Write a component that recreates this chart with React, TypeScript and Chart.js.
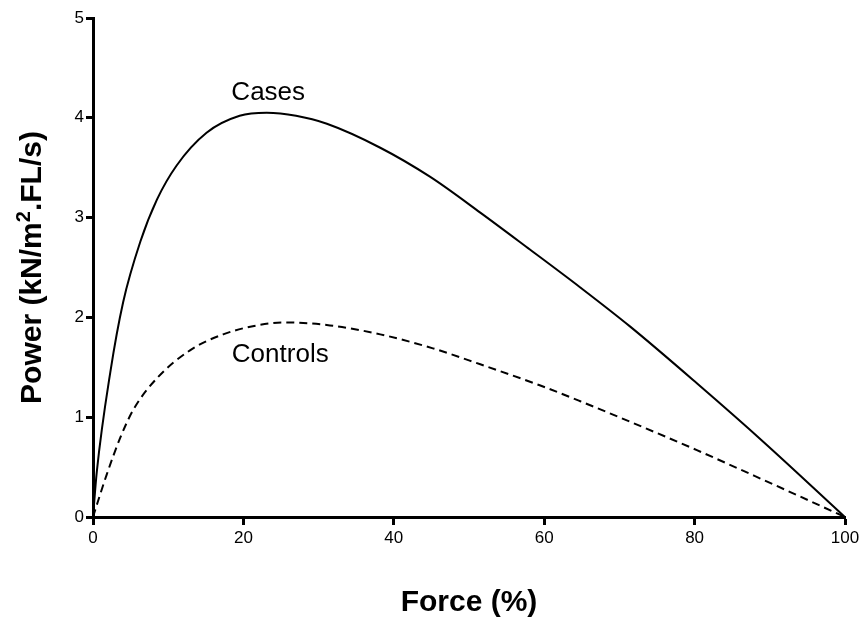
import React, { useEffect, useRef } from "react";
import { Chart, registerables } from "chart.js";

Chart.register(...registerables);

const casesX = [0, 0.5, 2.3, 4, 6.3, 8.5, 11.1, 15.1, 19.5, 23.1, 27, 31.1, 38.2, 44.8, 51.5, 58.1, 64.8, 71.4, 80.3, 89.2, 100];
const casesY = [0, 0.45, 1.45, 2.15, 2.76, 3.18, 3.52, 3.85, 4.02, 4.05, 4.02, 3.94, 3.7, 3.41, 3.05, 2.68, 2.3, 1.91, 1.34, 0.75, 0];

const controlsX = [0, 0.5, 1.8, 3.6, 5.4, 8.5, 12.9, 17.3, 21.8, 25.3, 31.5, 38.2, 45.2, 51.5, 59.4, 64.8, 71.4, 80.3, 89.2, 100];
const controlsY = [0, 0.12, 0.42, 0.79, 1.08, 1.39, 1.67, 1.83, 1.92, 1.95, 1.92, 1.83, 1.69, 1.53, 1.32, 1.16, 0.955, 0.67, 0.37, 0];

const xTicks = [0, 20, 40, 60, 80, 100];
const yTicks = [0, 1, 2, 3, 4, 5];

const curveLabels = ["Cases", "Controls"];
const curveLabelX = [23.3, 24.9];
const curveLabelY = [4.25, 1.62];

const xTitle = "Force (%)";
const yTitleParts = ["Power (kN/m", "2", ".FL/s)"];

const FONT = '"Liberation Sans", Arial, Helvetica, sans-serif';

const labelPlugin = {
  id: "curveLabels",
  afterDatasetsDraw(chart: any) {
    const { ctx, scales } = chart;
    const x = scales.x;
    const y = scales.y;
    ctx.save();
    ctx.font = `26px ${FONT}`;
    ctx.fillStyle = "#000";
    ctx.textAlign = "center";
    ctx.textBaseline = "middle";
    curveLabels.forEach((t, i) => {
      ctx.fillText(t, x.getPixelForValue(curveLabelX[i]), y.getPixelForValue(curveLabelY[i]));
    });
    ctx.restore();
  },
};

const yTitlePlugin = {
  id: "yTitle",
  afterDraw(chart: any) {
    const { ctx, chartArea } = chart;
    const cy = (chartArea.top + chartArea.bottom) / 2;
    const big = `bold 30px ${FONT}`;
    const small = `bold 20px ${FONT}`;
    ctx.save();
    ctx.translate(33, cy);
    ctx.rotate(-Math.PI / 2);
    ctx.fillStyle = "#000";
    ctx.textAlign = "left";
    ctx.textBaseline = "middle";
    ctx.font = big;
    const w1 = ctx.measureText(yTitleParts[0]).width;
    const w3 = ctx.measureText(yTitleParts[2]).width;
    ctx.font = small;
    const w2 = ctx.measureText(yTitleParts[1]).width;
    let px = -(w1 + w2 + w3) / 2;
    ctx.font = big;
    ctx.fillText(yTitleParts[0], px, 0);
    px += w1;
    ctx.font = small;
    ctx.fillText(yTitleParts[1], px, -9);
    px += w2;
    ctx.font = big;
    ctx.fillText(yTitleParts[2], px, 0);
    ctx.restore();
  },
};

export default function App() {
  const ref = useRef<HTMLCanvasElement | null>(null);

  useEffect(() => {
    if (!ref.current) return;
    const chart = new Chart(ref.current, {
      type: "line",
      data: {
        datasets: [
          {
            label: "Cases",
            data: casesX.map((v, i) => ({ x: v, y: casesY[i] })),
            borderColor: "#000",
            borderWidth: 2,
            pointRadius: 0,
            cubicInterpolationMode: "monotone",
            fill: false,
          },
          {
            label: "Controls",
            data: controlsX.map((v, i) => ({ x: v, y: controlsY[i] })),
            borderColor: "#000",
            borderWidth: 2,
            borderDash: [8, 5],
            pointRadius: 0,
            cubicInterpolationMode: "monotone",
            fill: false,
          },
        ],
      },
      options: {
        animation: false,
        responsive: true,
        maintainAspectRatio: false,
        layout: { padding: { top: 18, right: 18, left: 0, bottom: 0 } },
        plugins: { legend: { display: false }, tooltip: { enabled: false } },
        scales: {
          x: {
            type: "linear",
            min: 0,
            max: 100,
            afterFit: (s: any) => {
              s.height = 104;
            },
            afterBuildTicks: (s: any) => {
              s.ticks = xTicks.map((v) => ({ value: v }));
            },
            border: { display: true, color: "#000", width: 3 },
            grid: {
              display: true,
              drawOnChartArea: false,
              drawTicks: true,
              tickLength: 8,
              tickWidth: 3,
              tickColor: "#000",
            },
            ticks: {
              color: "#000",
              padding: 3,
              maxRotation: 0,
              font: { family: FONT, size: 17 },
            },
            title: {
              display: true,
              text: xTitle,
              color: "#000",
              font: { family: FONT, size: 30, weight: "bold" },
              padding: { top: 0, bottom: 0 },
            },
          },
          y: {
            type: "linear",
            min: 0,
            max: 5,
            afterFit: (s: any) => {
              s.width = 93;
            },
            afterBuildTicks: (s: any) => {
              s.ticks = yTicks.map((v) => ({ value: v }));
            },
            border: { display: true, color: "#000", width: 3 },
            grid: {
              display: true,
              drawOnChartArea: false,
              drawTicks: true,
              tickLength: 7,
              tickWidth: 3,
              tickColor: "#000",
            },
            ticks: {
              color: "#000",
              padding: 2,
              font: { family: FONT, size: 17 },
            },
            title: { display: false },
          },
        },
      },
      plugins: [labelPlugin, yTitlePlugin],
    } as any);
    return () => chart.destroy();
  }, []);

  return (
    <div style={{ position: "absolute", left: 0, top: 0, width: 863, height: 621, background: "#fff" }}>
      <canvas ref={ref} />
    </div>
  );
}
